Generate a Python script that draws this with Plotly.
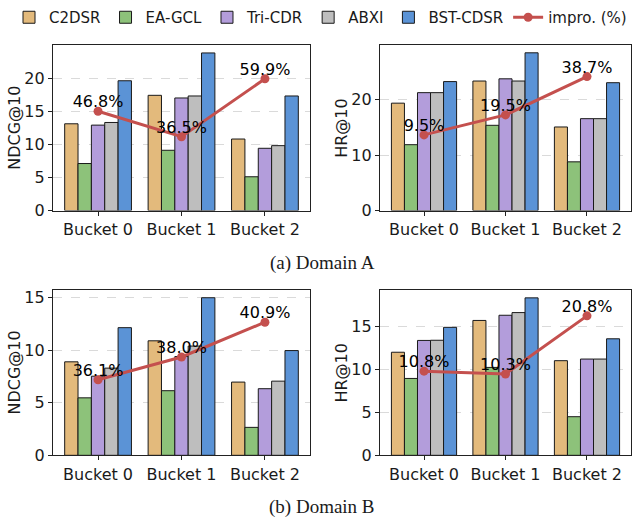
import plotly.graph_objects as go

categories = ["Bucket 0", "Bucket 1", "Bucket 2"]
methods = ["C2DSR", "EA-GCL", "Tri-CDR", "ABXI", "BST-CDSR"]
colors = ["#E3BA7C", "#8DC27A", "#B39DDB", "#BEBEBE", "#5B93D6"]
line_color = "#C4504E"

# Domain A - NDCG@10
a_ndcg_c2dsr = [13.1, 17.4, 10.8]
a_ndcg_eagcl = [7.1, 9.1, 5.1]
a_ndcg_tricdr = [12.9, 17.0, 9.4]
a_ndcg_abxi = [13.3, 17.3, 9.8]
a_ndcg_bst = [19.6, 23.8, 17.3]
a_ndcg_impro = [46.8, 36.5, 59.9]

# Domain A - HR@10
a_hr_c2dsr = [19.4, 23.4, 15.1]
a_hr_eagcl = [11.9, 15.4, 8.8]
a_hr_tricdr = [21.3, 23.8, 16.6]
a_hr_abxi = [21.3, 23.4, 16.6]
a_hr_bst = [23.3, 28.5, 23.1]
a_hr_impro = [9.5, 19.5, 38.7]

# Domain B - NDCG@10
b_ndcg_c2dsr = [8.9, 10.9, 6.97]
b_ndcg_eagcl = [5.47, 6.15, 2.66]
b_ndcg_tricdr = [7.53, 9.4, 6.34]
b_ndcg_abxi = [8.3, 10.4, 7.06]
b_ndcg_bst = [12.15, 15.0, 9.97]
b_ndcg_impro = [36.1, 38.0, 40.9]

# Domain B - HR@10
b_hr_c2dsr = [11.96, 15.65, 10.98]
b_hr_eagcl = [8.92, 10.2, 4.48]
b_hr_tricdr = [13.33, 16.25, 11.17]
b_hr_abxi = [13.35, 16.56, 11.17]
b_hr_bst = [14.85, 18.27, 13.52]
b_hr_impro = [10.8, 10.3, 20.8]

W, H = 632, 527

panels = [
    dict(series=[a_ndcg_c2dsr, a_ndcg_eagcl, a_ndcg_tricdr, a_ndcg_abxi, a_ndcg_bst],
         impro=a_ndcg_impro, ytitle="NDCG@10", xpx=(53, 310), ypx=(45, 214),
         yrange=[0, 24.99], y2range=[6.7, 73.5], dtick=5, titlex=15),
    dict(series=[a_hr_c2dsr, a_hr_eagcl, a_hr_tricdr, a_hr_abxi, a_hr_bst],
         impro=a_hr_impro, ytitle="HR@10", xpx=(380, 631), ypx=(45, 214),
         yrange=[0, 29.9], y2range=[-28.4, 54.5], dtick=10, titlex=342),
    dict(series=[b_ndcg_c2dsr, b_ndcg_eagcl, b_ndcg_tricdr, b_ndcg_abxi, b_ndcg_bst],
         impro=b_ndcg_impro, ytitle="NDCG@10", xpx=(53, 310), ypx=(295, 464),
         yrange=[0, 15.75], y2range=[29.8, 43.6], dtick=5, titlex=15),
    dict(series=[b_hr_c2dsr, b_hr_eagcl, b_hr_tricdr, b_hr_abxi, b_hr_bst],
         impro=b_hr_impro, ytitle="HR@10", xpx=(380, 631), ypx=(295, 464),
         yrange=[0, 19.2], y2range=[-4.4, 25.5], dtick=5, titlex=342),
]

FONT = "DejaVu Sans"
fig = go.Figure()
layout = {}
annotations = []

for i, p in enumerate(panels):
    n = i + 1
    xa = "x" if n == 1 else f"x{n}"
    ya = "y" if n == 1 else f"y{n}"
    y2n = n + 4
    ya2 = f"y{y2n}"
    first = (i == 0)
    for m, c, vals in zip(methods, colors, p["series"]):
        fig.add_trace(go.Bar(
            x=categories, y=vals, name=m, marker=dict(color=c, line=dict(color="#1a1a1a", width=1)),
            xaxis=xa, yaxis=ya, showlegend=first, legendgroup=m, offsetgroup=m))
    fig.add_trace(go.Scatter(
        x=categories, y=p["impro"], mode="lines+markers", name="impro. (%)",
        line=dict(color=line_color, width=3), marker=dict(color=line_color, size=9),
        xaxis=xa, yaxis=ya2, showlegend=first, legendgroup="impro"))
    fig.add_trace(go.Scatter(
        x=categories, y=p["impro"], mode="text", text=[f"{v:.1f}%" for v in p["impro"]],
        textposition="top center", textfont=dict(family=FONT, size=16, color="black"),
        xaxis=xa, yaxis=ya2, showlegend=False, hoverinfo="skip"))

    xd = [p["xpx"][0] / W, p["xpx"][1] / W]
    yd = [1 - p["ypx"][1] / H, 1 - p["ypx"][0] / H]
    xkey = "xaxis" if n == 1 else f"xaxis{n}"
    ykey = "yaxis" if n == 1 else f"yaxis{n}"
    layout[xkey] = dict(domain=xd, anchor=ya, range=[-0.54, 2.54], type="category",
                        showline=True, mirror=True, linecolor="#222", linewidth=1.2,
                        ticks="outside", ticklen=4, tickcolor="#222", showgrid=False,
                        tickfont=dict(family=FONT, size=16, color="#1a1a1a"))
    layout[ykey] = dict(domain=yd, anchor=xa, range=p["yrange"], dtick=p["dtick"], tick0=0,
                        showline=True, mirror=True, linecolor="#222", linewidth=1.2,
                        ticks="outside", ticklen=4, tickcolor="#222",
                        showgrid=True, gridcolor="#DADADA", griddash="dash", gridwidth=0.8,
                        zeroline=False, tickfont=dict(family=FONT, size=16, color="#1a1a1a"))
    layout[f"yaxis{y2n}"] = dict(domain=yd, anchor=xa, overlaying=ya, range=p["y2range"],
                                 visible=False, showgrid=False, zeroline=False)
    annotations.append(dict(text=p["ytitle"], x=p["titlex"] / W, y=(yd[0] + yd[1]) / 2,
                            xref="paper", yref="paper", showarrow=False, textangle=-90,
                            xanchor="center", yanchor="middle",
                            font=dict(family=FONT, size=16, color="#1a1a1a")))

annotations.append(dict(text="(a) Domain A", x=322 / W, y=1 - 268 / H, xref="paper", yref="paper",
                        showarrow=False, xanchor="center", yanchor="middle",
                        font=dict(family="Liberation Serif", size=19, color="#1a1a1a")))
annotations.append(dict(text="(b) Domain B", x=322 / W, y=1 - 517 / H, xref="paper", yref="paper",
                        showarrow=False, xanchor="center", yanchor="middle",
                        font=dict(family="Liberation Serif", size=19, color="#1a1a1a")))

fig.update_layout(
    autosize=True, margin=dict(l=0, r=0, t=0, b=0),
    paper_bgcolor="white", plot_bgcolor="white",
    barmode="group", bargap=0.2, bargroupgap=0,
    font=dict(family=FONT, size=16, color="#1a1a1a"),
    legend=dict(orientation="h", x=10 / W, y=1.0, xanchor="left", yanchor="top",
                font=dict(family=FONT, size=15, color="#1a1a1a"), bgcolor="rgba(0,0,0,0)",
                traceorder="normal"),
    annotations=annotations,
    **layout,
)

fig.write_html("out.html", config={"displayModeBar": False, "responsive": True},
               default_width="100vw", default_height="100vh",
               post_script="document.body.style.margin='0';document.body.style.overflow='hidden';")
